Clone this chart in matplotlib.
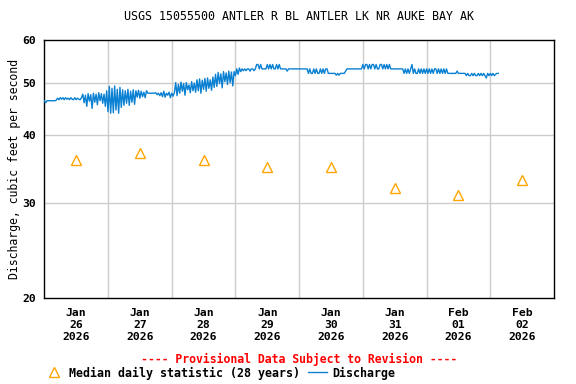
import numpy as np
import matplotlib
matplotlib.use('Agg')
from matplotlib import pyplot as plt
from matplotlib.lines import Line2D

plt.rcParams['font.family'] = 'DejaVu Sans Mono'
plt.rcParams['font.weight'] = 'bold'

# Discharge, one value every 30 minutes, starting at midnight of each day
jan26 = [46.3, 45.9, 46.3, 46.3, 46.3, 46.3, 46.3, 46.3, 46.3, 46.4,
         46.8, 46.5, 46.9, 46.6, 46.9, 46.5, 46.9, 46.6, 46.8, 46.5,
         46.9, 46.6, 46.5, 46.9, 46.5, 46.8, 46.6, 46.5, 46.9,
         47.6, 45.9, 47.4, 45.2, 47.7, 46.2, 47.5, 44.8, 47.8, 46.0,
         47.6, 45.5, 47.9, 46.3, 47.7, 45.8, 47.6, 45.2, 48.3]
jan27 = [44.2, 49.2, 43.9, 48.8, 44.0, 49.3, 44.5, 48.6, 43.9, 49.0, 45.0,
         48.5, 45.4, 48.3, 45.8, 48.6, 45.4, 48.2, 46.0, 48.5, 45.6,
         48.3, 47.0, 48.4, 46.8, 48.2, 47.1, 48.0, 46.9, 48.3, 47.8,
         47.8, 47.8, 47.8, 47.8, 47.8, 47.9, 47.5, 47.8, 47.3,
         47.9, 47.1, 48.2, 47.0, 47.8, 47.4, 48.0, 46.9]
jan28 = [47.8, 47.2, 47.9,
         50.0, 47.3, 49.6, 47.8, 50.1, 48.2, 49.8, 47.4, 50.0, 48.5,
         49.5, 47.9, 50.2, 48.3, 49.9,
         48.0, 50.6, 48.3, 50.8, 47.8, 50.5, 48.6, 50.9, 48.2, 51.0,
         48.8, 50.6, 48.4, 51.2, 49.0,
         51.8, 49.2, 52.2, 49.8, 51.9, 48.9, 52.4, 50.2, 52.1, 49.6,
         52.5, 50.0, 52.3, 49.3, 52.4]
jan29 = [51.5, 53.0, 51.8, 53.2, 52.4, 53.0,
         52.6, 53.0, 52.6, 53.0, 53.0, 52.5, 53.0, 53.0, 52.6, 53.0,
         54.0, 54.0, 53.0, 54.0, 53.0, 53.0, 53.0, 53.0, 54.0, 53.0, 54.0,
         53.0, 54.0, 53.0, 53.0, 54.0, 53.0, 54.0, 53.0, 53.0, 53.0, 53.0,
         53.0, 52.5, 53.0, 53.0, 53.0, 53.0, 53.0, 53.0, 53.0, 53.0]
jan30 = [53.0, 53.0, 53.0, 53.0, 53.0, 53.0, 53.0,
         52.0, 53.0, 52.0, 52.0, 53.0, 52.0, 53.0, 52.0, 52.0, 53.0,
         52.0, 53.0, 52.0, 53.0, 53.0,
         52.0, 52.0, 52.0, 52.0, 52.0, 52.0, 51.6, 52.0, 51.6, 52.0,
         52.0, 52.0, 52.0, 52.5, 53.0,
         53.0, 53.0, 53.0, 53.0, 53.0, 53.0, 53.0, 53.0, 53.0, 53.0, 53.0]
jan31 = [54.0, 53.0, 54.0, 54.0, 53.0, 54.0, 53.0, 54.0, 54.0, 53.0,
         54.0, 53.0, 53.0, 54.0, 54.0, 53.0, 54.0, 53.0, 54.0, 53.0,
         54.0, 53.0,
         53.0, 53.0, 53.0, 53.0, 53.0, 53.0, 53.0, 53.0, 53.0,
         52.0, 53.0, 52.0, 53.0, 52.0, 53.0, 54.0, 52.0, 53.0, 52.0,
         52.0, 53.0, 52.0, 53.0, 52.0, 53.0, 52.0]
feb01 = [53.0, 52.0, 53.0, 52.0, 53.0, 52.0, 53.0, 53.0, 52.0, 53.0,
         52.0, 53.0, 52.0, 53.0, 52.0, 53.0, 52.0,
         52.0, 52.0, 52.0, 52.0, 52.0, 52.0,
         52.5, 52.0, 52.0, 52.0, 52.0, 52.0, 52.0,
         51.5, 52.0, 51.5, 51.5, 52.0, 51.5, 52.0, 51.5, 51.5, 52.0,
         51.5, 52.0, 51.5, 52.0, 51.5, 51.0, 52.0, 51.5]
feb02 = [52.0, 51.5, 52.0, 51.5, 51.8, 52.0, 52.0]

# Median daily statistic (28 years), one per day
median_cfs = [36, 37, 36, 35, 35, 32, 31, 33]
day_labels = ['Jan\n26\n2026', 'Jan\n27\n2026', 'Jan\n28\n2026', 'Jan\n29\n2026',
              'Jan\n30\n2026', 'Jan\n31\n2026', 'Feb\n01\n2026', 'Feb\n02\n2026']

discharge = np.array(jan26 + jan27 + jan28 + jan29 + jan30 + jan31 + feb01 + feb02)
t = np.arange(len(discharge)) / 48.0
days = np.arange(len(median_cfs))

fig = plt.figure(figsize=(5.76, 3.84), dpi=100)
ax = fig.add_axes([44.3 / 576, 1 - 298.3 / 384, (554 - 44.3) / 576, (298.3 - 39.7) / 384])

blue = '#0a80d2'
orange = '#ffa500'

ax.plot(t, discharge, color=blue, linewidth=1, zorder=3)
ax.plot(days + 0.5, median_cfs, linestyle='none', marker='^', markersize=7,
        markerfacecolor='none', markeredgecolor=orange, markeredgewidth=1, zorder=4)

ax.set_yscale('log')
ax.set_ylim(20, 60)
ax.set_yticks([20, 30, 40, 50, 60])
ax.set_yticklabels(['20', '30', '40', '50', '60'])
ax.yaxis.set_minor_locator(matplotlib.ticker.NullLocator())
ax.set_xlim(0, 8)
ax.set_xticks(days + 0.5)
ax.set_xticklabels(day_labels, linespacing=1.25)
ax.tick_params(which='both', length=0, labelsize=8.2)
ax.tick_params(axis='y', pad=6)
ax.tick_params(axis='x', pad=7)

for yv in [30, 40, 50]:
    ax.axhline(yv, color='#cccccc', linewidth=1, zorder=1)
for xv in range(1, 8):
    ax.axvline(xv, color='#cccccc', linewidth=1, zorder=1)

for s in ax.spines.values():
    s.set_color('black')
    s.set_linewidth(1)

ax.set_ylabel('Discharge, cubic feet per second', fontsize=8.3, labelpad=1)
ax.set_title('USGS 15055500 ANTLER R BL ANTLER LK NR AUKE BAY AK', fontsize=8.4, pad=14)

fig.text(299 / 576, 1 - 359 / 384, '---- Provisional Data Subject to Revision ----',
         color='red', fontsize=8.3, ha='center', va='center')

handles = [Line2D([], [], linestyle='none', marker='^', markersize=7,
                  markerfacecolor='none', markeredgecolor=orange),
           Line2D([], [], color=blue, linewidth=1)]
fig.legend(handles, ['Median daily statistic (28 years)', 'Discharge'],
           loc='center left', bbox_to_anchor=(45 / 576, 1 - 373 / 384), ncol=2,
           frameon=False, fontsize=8.4, handlelength=1.6, handletextpad=0.45,
           columnspacing=0.7, borderpad=0, borderaxespad=0)

fig.savefig('out.png', dpi=100)
